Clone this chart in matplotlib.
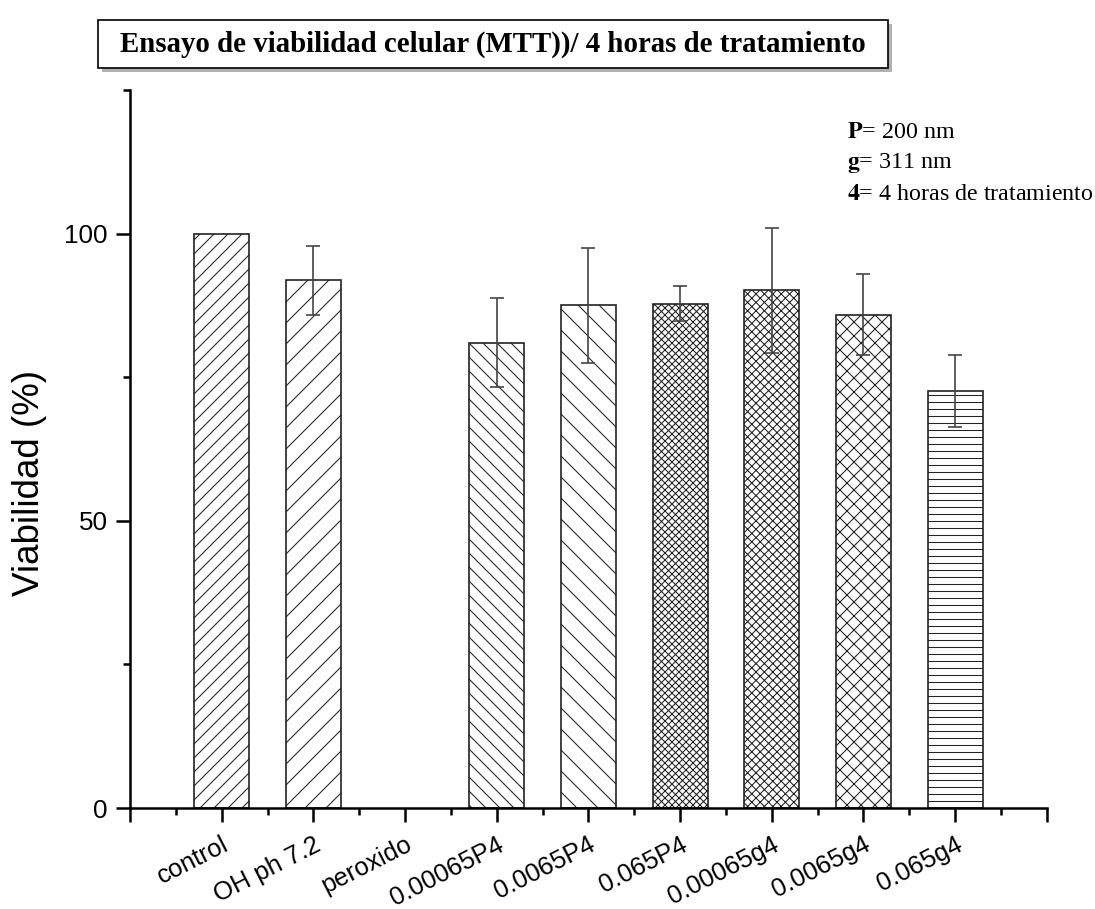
import matplotlib
matplotlib.use('Agg')
import matplotlib.pyplot as plt
import matplotlib.patheffects as pe
from matplotlib.patches import Rectangle
from matplotlib.ticker import MultipleLocator
import numpy as np

# data
labels = ['control', 'OH ph 7.2', 'peroxido', '0.00065P4', '0.0065P4',
          '0.065P4', '0.00065g4', '0.0065g4', '0.065g4']
viabilidad = [100.0, 91.9, 0.0, 81.0, 87.5, 87.8, 90.1, 85.9, 72.6]
error = [0.0, 6.0, 0.0, 7.7, 10.0, 3.0, 10.9, 7.1, 6.3]
hatches = ['///', '//', '', '\\\\\\', '\\\\', 'xxxxxx', 'xxxxx', 'xxx', '---']

plt.rcParams['hatch.linewidth'] = 0.6
plt.rcParams['mathtext.fontset'] = 'stix'
plt.rcParams['font.family'] = 'Liberation Sans'

# dpi 126 so the hatch spacing comes out like the original
fig = plt.figure(figsize=(1095 / 126, 909 / 126), dpi=126)
ax = fig.add_axes([0.1187, 0.1111, 0.8373, 0.79])

x = np.arange(1, len(labels) + 1)
for xi, v, e, h in zip(x, viabilidad, error, hatches):
    if v <= 0:
        continue
    ax.bar(xi, v, width=0.6, color='white', edgecolor='#222222',
           linewidth=0.95, hatch=h, zorder=2)
    if e > 0:
        ax.errorbar(xi, v, yerr=e, fmt='none', ecolor='#444444',
                    elinewidth=0.95, capsize=3.8, capthick=0.95, zorder=3)

ax.set_xlim(0, 10)
ax.set_ylim(0, 125)
ax.set_xticks(np.arange(0, 11))
ax.set_xticklabels([''] + labels + [''], rotation=27, ha='right', va='top',
                   rotation_mode='anchor', fontsize=14.6)
ax.xaxis.set_minor_locator(MultipleLocator(0.5))
ax.set_yticks([0, 50, 100])
ax.yaxis.set_minor_locator(MultipleLocator(25))
ax.tick_params(axis='both', which='major', length=8, width=1.43,
               direction='out', labelsize=14.9)
ax.tick_params(axis='x', which='major', pad=6, labelsize=14.6)
ax.tick_params(axis='y', which='major', pad=4.8)
ax.tick_params(axis='both', which='minor', length=4, width=1.43,
               direction='out')
for s in ['top', 'right']:
    ax.spines[s].set_visible(False)
for s in ['left', 'bottom']:
    ax.spines[s].set_linewidth(1.43)

ax.set_ylabel('Viabilidad (%)', fontsize=21)
ax.yaxis.set_label_coords(-0.0905, 0.453)

# title box with shadow
box = Rectangle((0.0895, 0.9252), 0.7215, 0.0528, transform=fig.transFigure,
                facecolor='white', edgecolor='black', linewidth=0.95,
                path_effects=[pe.SimplePatchShadow(offset=(2.4, -2.4),
                                                   shadow_rgbFace='gray',
                                                   alpha=0.6),
                              pe.Normal()])
fig.add_artist(box)
fig.text(0.450, 0.9516, 'Ensayo de viabilidad celular (MTT))/ 4 horas de tratamiento',
         ha='center', va='center', fontsize=16.5, fontweight='bold',
         family='Liberation Serif')

notes = [(r'$\mathbf{P}$= 200 nm', 132),
         (r'$\mathbf{g}$= 311 nm', 163),
         (r'$\mathbf{4}$= 4 horas de tratamiento', 194)]
for txt, ypix in notes:
    fig.text(847 / 1095, 1 - ypix / 909, txt, ha='left', va='center',
             fontsize=13.7, family='Liberation Serif')

fig.savefig('out.png', dpi=126)
